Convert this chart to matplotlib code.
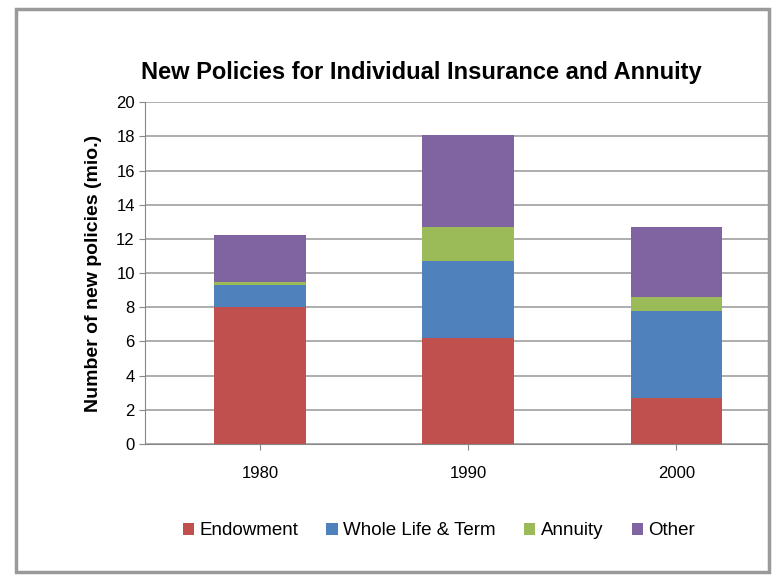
import matplotlib.pyplot as plt
from matplotlib.patches import Rectangle
import numpy as np

plt.rcParams['font.family'] = ['Liberation Sans', 'DejaVu Sans']

years = ['1980', '1990', '2000']
endowment = [8.0, 6.2, 2.7]
whole_life = [1.3, 4.5, 5.1]
annuity = [0.2, 2.0, 0.8]
other = [2.7, 5.4, 4.1]

series = [
    ('Endowment', endowment, '#c0504d'),
    ('Whole Life & Term', whole_life, '#4f81bd'),
    ('Annuity', annuity, '#9bbb59'),
    ('Other', other, '#8064a2'),
]

fig = plt.figure(figsize=(7.81, 5.84), dpi=100)
fig.patch.set_facecolor('white')

# frame around the chart area, like the pasted Excel chart
fig.patches.append(Rectangle((0.02, 0.02), 0.965, 0.965, transform=fig.transFigure,
                             fill=False, edgecolor='#9a9a9a', linewidth=2.5))

ax = fig.add_axes([0.186, 0.24, 0.80, 0.585])
x = np.arange(len(years))
bottom = np.zeros(len(years))
for name, vals, color in series:
    ax.bar(x, vals, width=0.44, bottom=bottom, color=color, label=name, zorder=3)
    bottom += np.array(vals)

ax.set_ylim(0, 20)
ax.set_yticks(range(0, 21, 2))
ax.set_xlim(-0.55, 2.45)
ax.set_xticks(x)
ax.set_xticklabels(years)
ax.tick_params(axis='both', labelsize=12, length=4, color='#888888')
ax.tick_params(axis='x', pad=12)
ax.yaxis.grid(True, color='#a0a0a0', linewidth=1.2, zorder=0)
for side in ['top', 'right']:
    ax.spines[side].set_visible(False)
ax.spines['left'].set_color('#888888')
ax.spines['bottom'].set_color('#888888')

ax.set_ylabel('Number of new policies (mio.)', fontsize=14, fontweight='bold', labelpad=10)
fig.text(0.54, 0.875, 'New Policies for Individual Insurance and Annuity',
         ha='center', va='center', fontsize=17, fontweight='bold')

ax.legend(loc='upper center', bbox_to_anchor=(0.47, -0.18), ncol=4, frameon=False,
          fontsize=13.5, handlelength=0.6, handleheight=0.6, handletextpad=0.3,
          columnspacing=1.5)

fig.savefig('out.png', dpi=100)
